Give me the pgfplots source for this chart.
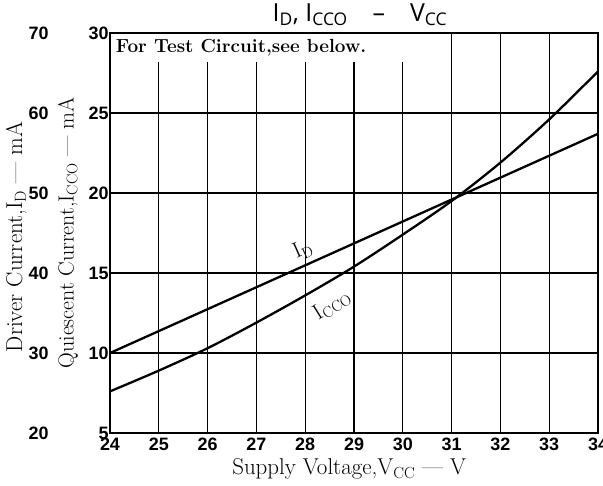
\documentclass[border=0pt]{standalone}
\usepackage{pgfplots}
\pgfplotsset{compat=1.18}
\usepackage{fontspec}
\newfontfamily\tickfont{Liberation Sans}
\newfontfamily\titlefont{Open Sans}
\begin{document}
\begin{tikzpicture}
\path[use as bounding box] (0,0) rectangle (603bp,486bp);
% outer (driver current) axis
\begin{axis}[at={(110bp,53bp)}, anchor=south west, scale only axis,
  width=488bp, height=400bp,
  xmin=24, xmax=34, ymin=20, ymax=70,
  hide x axis, axis y line*=left, y axis line style={draw=none},
  ytick={20,30,40,50,60,70}, major tick length=0pt,
  /pgf/number format/assume math mode=true,
  yticklabel style={font=\fontsize{18}{19}\selectfont\tickfont\bfseries, xshift=-58bp},
  ylabel={Driver Current,I$_{\mathrm{D}}$ --- mA},
  ylabel style={font=\fontsize{23}{24}\selectfont, at={(axis description cs:-0.192,0.49)}, anchor=center, rotate=0},
]
\end{axis}
\begin{axis}[at={(110bp,53bp)}, anchor=south west, scale only axis,
  width=488bp, height=400bp,
  xmin=24, xmax=34, ymin=5, ymax=30,
  xtick={24,...,34}, ytick={5,10,...,30},
  grid=major, major grid style={black, line width=1.1pt},
  axis line style={line width=1.4pt},
  major tick length=0pt,
  /pgf/number format/assume math mode=true,
  ticklabel style={font=\fontsize{18}{19}\selectfont\tickfont\bfseries},
  yticklabel style={xshift=2bp},
  xticklabel style={yshift=-1bp},
  xlabel={Supply Voltage,V$_{\mathrm{CC}}$ --- V},
  xlabel style={font=\fontsize{23}{24}\selectfont, at={(axis description cs:0.49,-0.09)}, anchor=center},
  ylabel={Quiescent Current,I$_{\mathrm{CCO}}$ --- mA},
  ylabel style={font=\fontsize{22}{23}\selectfont, at={(axis description cs:-0.086,0.5)}, anchor=center, rotate=0},
  clip=false,
]
\addplot[black, line width=2.3pt] coordinates {(24,10) (34,23.7)};
\addplot[black, line width=2.3pt, smooth] coordinates {(24,7.6)(25,8.9)(26,10.3)(27,11.9)(28,13.6)(29,15.4)(30,17.4)(31,19.5)(32,21.9)(33,24.6)(34,27.6)};
\fill[white] (axis cs:24.04,28.2) rectangle (axis cs:30.5,29.93);
\node[anchor=west, font=\fontsize{19}{20}\selectfont\bfseries] at (axis cs:24.05,29.05) {For Test Circuit,see below.};
\node[rotate=24, font=\fontsize{22}{23}\selectfont] at (axis cs:27.95,16.45) {I$_{\mathrm{D}}$};
\node[rotate=32, font=\fontsize{22}{23}\selectfont] at (axis cs:28.55,13.0) {I$_{\mathrm{CCO}}$};
\node[font=\fontsize{25}{26}\selectfont\titlefont] at (axis description cs:0.512,1.045) {I\textsubscript{D}, I\textsubscript{CCO}\quad\textendash\quad V\textsubscript{CC}};
\end{axis}
\end{tikzpicture}
\end{document}
